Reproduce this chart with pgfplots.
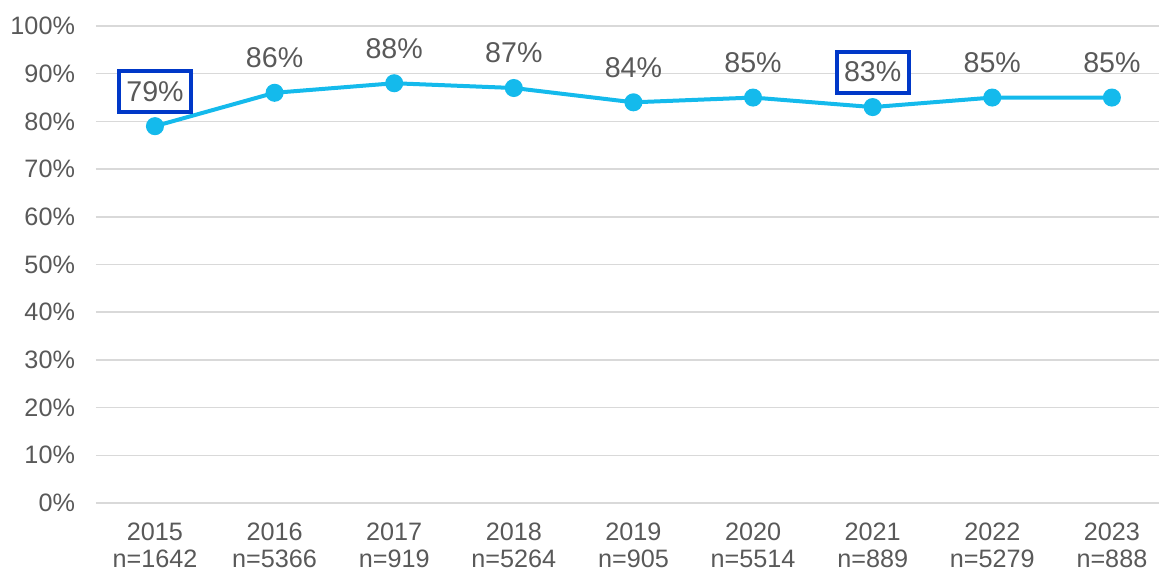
\documentclass[border=0pt]{standalone}
\usepackage{pgfplots}
\pgfplotsset{compat=1.18}
\usepackage{fontspec}
\setmainfont{Liberation Sans}
\definecolor{linec}{RGB}{20,186,236}
\definecolor{boxc}{RGB}{0,56,200}
\definecolor{txt}{RGB}{89,89,89}
\definecolor{gridc}{RGB}{217,217,217}
\begin{document}
\begin{tikzpicture}
\path[use as bounding box] (-48pt,-35.5pt) rectangle (531.5pt,251.5pt);
\begin{axis}[
  at={(0,0)}, anchor=south west,
  scale only axis, width=531.5pt, height=238.5pt,
  xmin=-0.493, xmax=8.394, ymin=0, ymax=100,
  /pgf/number format/assume math mode=true,
  axis line style={draw=none},
  major tick length=0pt,
  ymajorgrids, grid style={gridc, line width=0.75pt},
  ytick={0,10,...,100},
  yticklabels={0\%,10\%,20\%,30\%,40\%,50\%,60\%,70\%,80\%,90\%,100\%},
  yticklabel style={font=\fontsize{12.6}{14}\selectfont, text=txt, xshift=-7pt},
  xtick={0,...,8},
  xticklabels={{2015\\n=1642},{2016\\n=5366},{2017\\n=919},{2018\\n=5264},{2019\\n=905},{2020\\n=5514},{2021\\n=889},{2022\\n=5279},{2023\\n=888}},
  xticklabel style={font=\fontsize{12.6}{13.6}\selectfont, text=txt, align=center, yshift=-6.5pt},
  clip=false,
]
\addplot[linec, line width=2pt, mark=*, mark size=3.5pt, mark options={fill=linec, draw=linec}]
  coordinates {(0,79) (1,86) (2,88) (3,87) (4,84) (5,85) (6,83) (7,85) (8,85)};
\addplot[draw=none, mark=none, nodes near coords={\pgfmathprintnumber[assume math mode=true]{\pgfplotspointmeta}\%},
  point meta=explicit,
  every node near coord/.append style={anchor=center, yshift=17.5pt, font=\fontsize{14.3}{16}\selectfont, text=txt}]
  coordinates {(1,86) [86] (2,88) [88] (3,87) [87] (4,84) [84] (5,85) [85] (7,85) [85] (8,85) [85]};
\addplot[draw=none, mark=none, nodes near coords={\pgfmathprintnumber[assume math mode=true]{\pgfplotspointmeta}\%},
  point meta=explicit,
  every node near coord/.append style={anchor=center, yshift=17.5pt, font=\fontsize{14.3}{16}\selectfont, text=txt,
    draw=boxc, line width=2pt, fill=white, minimum width=36pt, minimum height=20.5pt, inner sep=0pt}]
  coordinates {(0,79) [79] (6,83) [83]};
\end{axis}
\end{tikzpicture}
\end{document}
